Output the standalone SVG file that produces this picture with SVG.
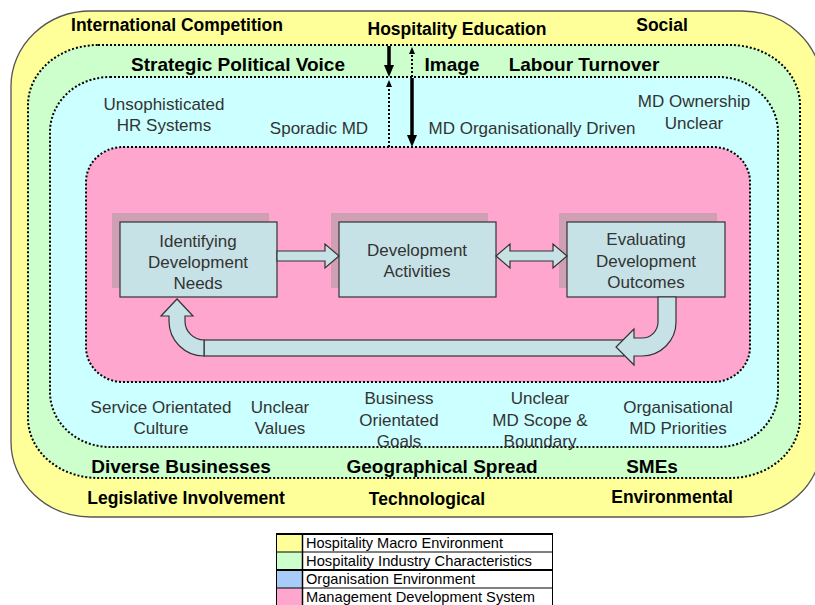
<svg xmlns="http://www.w3.org/2000/svg" width="815" height="605" viewBox="0 0 815 605">
  <style>
    .zone { stroke: #000; stroke-width: 2; stroke-dasharray: 2 2; }
    .bold { font-family: "Liberation Sans", Arial, sans-serif; font-weight: bold; fill: #000; text-anchor: middle; }
    .b1 { font-size: 17.5px; }
    .b2 { font-size: 19px; }
    .reg { font-family: "Liberation Sans", Arial, sans-serif; font-size: 17px; fill: #333; text-anchor: middle; }
    .box { fill: #C6E2E6; stroke: #333; stroke-width: 1.2; }
    .shadow { fill: #CFA0B3; }
    .block { fill: #C6E2E6; stroke: #333; stroke-width: 1.2; stroke-linejoin: miter; }
    .solid { stroke: #000; stroke-width: 3.5; fill: none; }
    .dots { stroke: #000; stroke-width: 2; stroke-dasharray: 2 2; fill: none; }
    .leg { font-family: "Liberation Sans", Arial, sans-serif; font-size: 14.5px; fill: #000; }
  </style>
  <defs>
    <marker id="headSolid" markerUnits="userSpaceOnUse" viewBox="0 0 12 10" refX="4" refY="5" markerWidth="12" markerHeight="10" orient="auto">
      <path d="M0,0 L12,5 L0,10 Z" fill="#000"/>
    </marker>
    <marker id="headDot" markerUnits="userSpaceOnUse" viewBox="0 0 7 6" refX="2" refY="3" markerWidth="7" markerHeight="6" orient="auto">
      <path d="M0,0 L7,3 L0,6 Z" fill="#000"/>
    </marker>
  </defs>

  <rect width="815" height="605" fill="#fff"/>

  <!-- nested environment zones -->
  <g id="macro">
    <rect x="11" y="11" width="811" height="506" rx="80" ry="75" fill="#FFFF99" stroke="#555" stroke-width="1.3"/>
    <text class="bold b1" x="177" y="31">International Competition</text>
    <text class="bold b1" x="457" y="35">Hospitality Education</text>
    <text class="bold b1" x="662" y="31">Social</text>
    <text class="bold b1" x="186" y="504">Legislative Involvement</text>
    <text class="bold b1" x="427" y="505">Technological</text>
    <text class="bold b1" x="672" y="503">Environmental</text>
  </g>

  <g id="industry">
    <rect class="zone" x="28" y="45" width="772" height="433" rx="70" ry="60" fill="#CCFFCC"/>
    <text class="bold b2" x="238" y="71">Strategic Political Voice</text>
    <text class="bold b2" x="452" y="71">Image</text>
    <text class="bold b2" x="584" y="71">Labour Turnover</text>
    <text class="bold b2" x="181" y="473">Diverse Businesses</text>
    <text class="bold b2" x="442" y="473">Geographical Spread</text>
    <text class="bold b2" x="652" y="473">SMEs</text>
  </g>

  <g id="organisation">
    <rect class="zone" x="50" y="77" width="728" height="370" rx="60" ry="55" fill="#CCFFFF"/>
    <text class="reg" x="164" y="110">Unsophisticated</text>
    <text class="reg" x="164" y="131">HR Systems</text>
    <text class="reg" x="319" y="134">Sporadic MD</text>
    <text class="reg" x="532" y="134">MD Organisationally Driven</text>
    <text class="reg" x="694" y="107">MD Ownership</text>
    <text class="reg" x="694" y="129">Unclear</text>
    <text class="reg" x="161" y="413">Service Orientated</text>
    <text class="reg" x="161" y="434">Culture</text>
    <text class="reg" x="280" y="413">Unclear</text>
    <text class="reg" x="280" y="434">Values</text>
    <text class="reg" x="399" y="404">Business</text>
    <text class="reg" x="399" y="426">Orientated</text>
    <text class="reg" x="399" y="447">Goals</text>
    <text class="reg" x="540" y="404">Unclear</text>
    <text class="reg" x="540" y="426">MD Scope &amp;</text>
    <text class="reg" x="540" y="447">Boundary</text>
    <text class="reg" x="678" y="413">Organisational</text>
    <text class="reg" x="678" y="434">MD Priorities</text>
  </g>

  <g id="md-system">
    <rect class="zone" x="86" y="147" width="664" height="235" rx="37" ry="35" fill="#FFA6CE"/>
  </g>

  <!-- process boxes -->
  <g id="identifying">
    <rect class="shadow" x="112" y="213" width="157" height="75"/>
    <rect class="box" x="120" y="222" width="157" height="75"/>
    <text class="reg" x="198" y="247">Identifying</text>
    <text class="reg" x="198" y="268">Development</text>
    <text class="reg" x="198" y="289">Needs</text>
  </g>
  <g id="activities">
    <rect class="shadow" x="331" y="213" width="157" height="75"/>
    <rect class="box" x="339" y="222" width="157" height="75"/>
    <text class="reg" x="417" y="256">Development</text>
    <text class="reg" x="417" y="277">Activities</text>
  </g>
  <g id="evaluating">
    <rect class="shadow" x="559" y="213" width="158" height="75"/>
    <rect class="box" x="567" y="222" width="158" height="75"/>
    <text class="reg" x="646" y="245">Evaluating</text>
    <text class="reg" x="646" y="267">Development</text>
    <text class="reg" x="646" y="288">Outcomes</text>
  </g>

  <g id="connectors">
    <!-- flow between process boxes -->
    <path class="block" d="M277,251 L325,251 L325,244 L339,256 L325,268 L325,261 L277,261 Z"/>
    <path class="block" d="M496,256 L510,244 L510,251 L553,251 L553,244 L567,256 L553,268 L553,261 L510,261 L510,268 Z"/>
    <!-- feedback loop -->
    <rect class="block" x="204" y="340" width="420" height="16"/>
    <path class="block" d="M204,340 A19,19 0 0 1 185,321 L185,316 L193,316 L177,299 L161,316 L169,316 L169,321 A35,35 0 0 0 204,356 Z"/>
    <path class="block" d="M658,297 L676,297 L676,322 A34,34 0 0 1 642,356 L634,356 L634,365 L616,347 L634,329 L634,338 L642,338 A16,16 0 0 0 658,322 Z"/>
    <!-- influence arrows across the zones -->
    <line class="solid" x1="389" y1="46" x2="389" y2="69" marker-end="url(#headSolid)"/>
    <line class="dots" x1="412" y1="77" x2="412" y2="52" marker-end="url(#headDot)"/>
    <line class="dots" x1="389" y1="147" x2="389" y2="85" marker-end="url(#headDot)"/>
    <line class="solid" x1="412" y1="78" x2="412" y2="139" marker-end="url(#headSolid)"/>
  </g>

  <!-- key -->
  <g id="legend">
    <rect x="276" y="534" width="26" height="18" fill="#FFFF99"/>
    <rect x="276" y="552" width="26" height="18" fill="#CCFFCC"/>
    <rect x="276" y="570" width="26" height="18" fill="#A8CCF8"/>
    <rect x="276" y="588" width="26" height="18" fill="#FFA6CE"/>
    <g stroke="#000" fill="none">
      <line x1="276" y1="534" x2="553" y2="534" stroke-width="2"/>
      <line x1="276" y1="552" x2="553" y2="552" stroke-width="1"/>
      <line x1="276" y1="570" x2="553" y2="570" stroke-width="2"/>
      <line x1="276" y1="588" x2="553" y2="588" stroke-width="1"/>
      <line x1="276.5" y1="533" x2="276.5" y2="605" stroke-width="1"/>
      <line x1="302.5" y1="533" x2="302.5" y2="605" stroke-width="1.5"/>
      <line x1="552.5" y1="533" x2="552.5" y2="605" stroke-width="1"/>
    </g>
    <text class="leg" x="306" y="548" textLength="197" lengthAdjust="spacingAndGlyphs">Hospitality Macro Environment</text>
    <text class="leg" x="306" y="566" textLength="226" lengthAdjust="spacingAndGlyphs">Hospitality Industry Characteristics</text>
    <text class="leg" x="306" y="584" textLength="169" lengthAdjust="spacingAndGlyphs">Organisation Environment</text>
    <text class="leg" x="306" y="602" textLength="229" lengthAdjust="spacingAndGlyphs">Management Development System</text>
  </g>
</svg>
